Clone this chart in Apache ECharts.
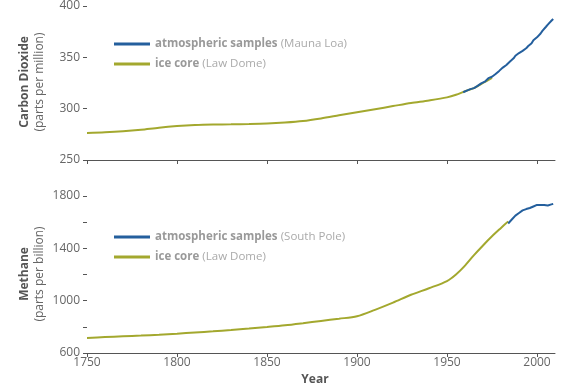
<!DOCTYPE html>
<html><head><meta charset="utf-8">
<script src="https://cdn.jsdelivr.net/npm/echarts@6/dist/echarts.min.js"></script>
<style>html,body{margin:0;padding:0;background:#fff}#c{width:580px;height:386px}</style>
</head><body><div id="c"></div>
<script>
// ---- data ----
const co2IceYears = [1750,1760,1770,1780,1790,1800,1810,1820,1830,1840,1850,1860,1870,1880,1890,1900,1910,1920,1930,1940,1950,1955,1960,1965,1970,1975];
const co2IceValues = [276.4,277,278,279.5,281.5,283,284,284.5,284.7,285,285.5,286.5,288,290.5,293.5,296.5,299.5,302.5,305.5,308,311,313.5,317,320,325,330];
const co2AtmYears = [1959,1960,1961,1962,1963,1964,1965,1966,1967,1968,1969,1970,1971,1972,1973,1974,1975,1976,1977,1978,1979,1980,1981,1982,1983,1984,1985,1986,1987,1988,1989,1990,1991,1992,1993,1994,1995,1996,1997,1998,1999,2000,2001,2002,2003,2004,2005,2006,2007,2008,2009];
const co2AtmValues = [316,317,317.6,318.4,319,319.6,320,321.4,322.2,323,324.6,325.7,326.3,327.5,329.7,330.2,331.1,332,333.8,335.4,336.8,338.7,340,341,342.6,344.4,345.9,347.2,349,351.5,352.9,354.2,355.5,356.3,357,358.8,360.8,362.6,363.7,366.6,368.3,369.5,371.1,373.2,375.8,377.5,379.8,381.9,383.8,385.6,387.4];
const ch4IceYears = [1750,1760,1770,1780,1790,1800,1810,1820,1830,1840,1850,1860,1870,1880,1890,1900,1910,1920,1930,1940,1950,1955,1960,1965,1970,1975,1980,1984];
const ch4IceValues = [715,722,728,733,740,748,757,766,776,787,799,812,828,845,862,881,930,985,1045,1095,1150,1200,1268,1348,1422,1492,1556,1606];
const ch4AtmYears = [1984,1986,1988,1990,1992,1994,1996,1998,2000,2002,2004,2006,2007,2008,2009];
const ch4AtmValues = [1590,1620,1650,1670,1690,1700,1708,1720,1732,1732,1731,1728,1727,1736,1740];
const xTicks = [1750,1800,1850,1900,1950,2000];
const co2Ticks = [250,300,350,400];
const ch4Ticks = [600,800,1000,1200,1400,1600,1800];
const ch4Labels = [600,1000,1400,1800];

const zip = (xs, ys) => xs.map((x, i) => [x, ys[i]]);
const BLUE = '#245f9d', OLIVE = '#a3a82e';
const FONT = '"Open Sans", sans-serif';
const NAME_ATM1 = 'atmospheric samples (Mauna Loa)';
const NAME_ATM2 = 'atmospheric samples (South Pole)';
const NAME_ICE = 'ice core (Law Dome)';
const plain = v => String(v);

function xAxis(grid, labels) {
  return {
    type: 'value', gridIndex: grid, min: 1750, max: 2010,
    axisLine: { show: true, lineStyle: { color: '#555', width: 1 } },
    axisTick: { show: true, length: 4, customValues: xTicks, lineStyle: { color: '#555' } },
    axisLabel: { show: labels, customValues: xTicks, formatter: plain, margin: 4, color: '#666', fontSize: 12, fontFamily: FONT },
    splitLine: { show: false }
  };
}
function yAxis(grid, min, max, ticks, labelVals) {
  return {
    type: 'value', gridIndex: grid, min: min, max: max,
    axisLine: { show: false },
    axisTick: { show: true, length: 4, customValues: ticks, lineStyle: { color: '#555' } },
    axisLabel: { customValues: labelVals, formatter: plain, margin: 7, color: '#666', fontSize: 12, fontFamily: FONT },
    splitLine: { show: false }
  };
}
const legendFmt = name => {
  const i = name.indexOf(' (');
  return '{b|' + name.slice(0, i) + '} {n|' + name.slice(i + 1) + '}';
};
const legendText = { fontFamily: FONT, rich: {
  b: { fontWeight: 'bold', color: '#999', fontSize: 11.5, fontFamily: FONT },
  n: { color: '#aaa', fontSize: 11.5, fontFamily: FONT } } };

const chart = echarts.init(document.getElementById('c'));
chart.setOption({
  animation: false,
  grid: [
    { left: 87, right: 25, top: 5, height: 155 },
    { left: 87, right: 25, top: 196, height: 157 }
  ],
  xAxis: [xAxis(0, false), xAxis(1, true)],
  yAxis: [yAxis(0, 250, 400, co2Ticks, co2Ticks), yAxis(1, 600, 1800, ch4Ticks, ch4Labels)],
  legend: [
    { orient: 'vertical', left: 114, top: 38, padding: 0, itemGap: 8, itemWidth: 36, itemHeight: 3, icon: 'rect',
      data: [NAME_ATM1, NAME_ICE], formatter: legendFmt, textStyle: legendText, selectedMode: false },
    { orient: 'vertical', left: 114, top: 231, padding: 0, itemGap: 8, itemWidth: 36, itemHeight: 3, icon: 'rect',
      data: [NAME_ATM2, NAME_ICE], formatter: legendFmt, textStyle: legendText, selectedMode: false }
  ],
  graphic: [
    { type: 'text', x: 25, y: 82, rotation: Math.PI / 2, style: { text: 'Carbon Dioxide', align: 'center', verticalAlign: 'middle', font: 'bold 12px ' + FONT, fill: '#555' } },
    { type: 'text', x: 40, y: 82, rotation: Math.PI / 2, style: { text: '(parts per million)', align: 'center', verticalAlign: 'middle', font: '12px ' + FONT, fill: '#666' } },
    { type: 'text', x: 25, y: 274, rotation: Math.PI / 2, style: { text: 'Methane', align: 'center', verticalAlign: 'middle', font: 'bold 12px ' + FONT, fill: '#555' } },
    { type: 'text', x: 40, y: 274, rotation: Math.PI / 2, style: { text: '(parts per billion)', align: 'center', verticalAlign: 'middle', font: '12px ' + FONT, fill: '#666' } },
    { type: 'text', x: 315, y: 380, style: { text: 'Year', align: 'center', verticalAlign: 'middle', font: 'bold 12px ' + FONT, fill: '#555' } }
  ],
  series: [
    { name: NAME_ICE, type: 'line', xAxisIndex: 0, yAxisIndex: 0, data: zip(co2IceYears, co2IceValues), showSymbol: false, symbol: 'none', smooth: 0.3, lineStyle: { color: OLIVE, width: 2 }, itemStyle: { color: OLIVE } },
    { name: NAME_ATM1, type: 'line', xAxisIndex: 0, yAxisIndex: 0, data: zip(co2AtmYears, co2AtmValues), showSymbol: false, symbol: 'none', lineStyle: { color: BLUE, width: 2 }, itemStyle: { color: BLUE } },
    { name: NAME_ICE, type: 'line', xAxisIndex: 1, yAxisIndex: 1, data: zip(ch4IceYears, ch4IceValues), showSymbol: false, symbol: 'none', smooth: 0.3, lineStyle: { color: OLIVE, width: 2 }, itemStyle: { color: OLIVE } },
    { name: NAME_ATM2, type: 'line', xAxisIndex: 1, yAxisIndex: 1, data: zip(ch4AtmYears, ch4AtmValues), showSymbol: false, symbol: 'none', lineStyle: { color: BLUE, width: 2 }, itemStyle: { color: BLUE } }
  ]
});
</script></body></html>
